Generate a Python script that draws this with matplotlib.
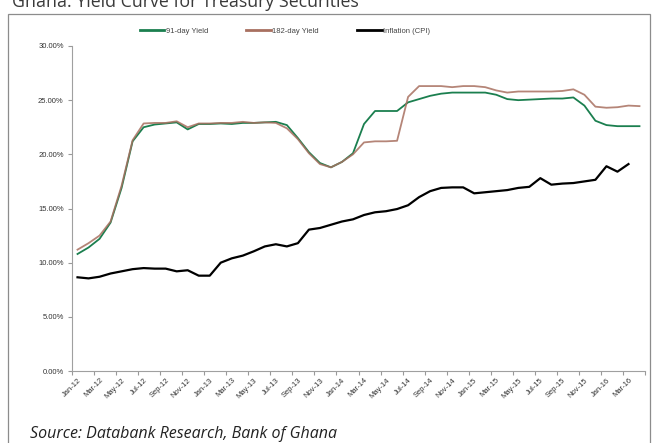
import matplotlib
matplotlib.use("Agg")
import matplotlib.pyplot as plt
import numpy as np
import pandas as pd
from matplotlib.patches import Rectangle

# meses Jan-12 .. Apr-16
months = pd.date_range("2012-01-01", periods=52, freq="MS").strftime("%b-%y").tolist()

# rendimiento letras 91 dias (%)
yield_91 = [10.8, 11.4, 12.2, 13.7, 16.9, 21.2, 22.5, 22.75, 22.85, 22.95, 22.3, 22.8,
            22.8, 22.85, 22.8, 22.9, 22.9, 22.95, 23.0, 22.7, 21.5, 20.2, 19.2, 18.8,
            19.3, 20.1, 22.8, 24.0, 24.0, 24.0, 24.8, 25.1, 25.4, 25.6, 25.7, 25.7,
            25.7, 25.7, 25.5, 25.1, 25.0, 25.05, 25.1, 25.15, 25.15, 25.25, 24.5, 23.1,
            22.7, 22.6, 22.6, 22.6]
# rendimiento letras 182 dias (%)
yield_182 = [11.2, 11.8, 12.5, 13.8, 17.1, 21.3, 22.85, 22.9, 22.9, 23.05, 22.5, 22.85,
             22.85, 22.9, 22.9, 23.0, 22.9, 22.95, 22.9, 22.4, 21.4, 20.1, 19.1, 18.8,
             19.3, 20.0, 21.1, 21.2, 21.2, 21.25, 25.3, 26.3, 26.3, 26.3, 26.2, 26.3,
             26.3, 26.2, 25.9, 25.7, 25.8, 25.8, 25.8, 25.8, 25.85, 26.0, 25.5, 24.4,
             24.3, 24.35, 24.5, 24.45]
# inflacion CPI (%), hasta Mar-16
cpi = [8.65, 8.55, 8.7, 9.0, 9.2, 9.4, 9.5, 9.45, 9.45, 9.2, 9.3, 8.8,
       8.8, 10.0, 10.4, 10.65, 11.05, 11.5, 11.7, 11.5, 11.8, 13.05, 13.2, 13.5,
       13.8, 14.0, 14.4, 14.65, 14.75, 14.95, 15.3, 16.05, 16.6, 16.9, 16.95, 16.95,
       16.4, 16.5, 16.6, 16.7, 16.9, 17.0, 17.8, 17.2, 17.3, 17.35, 17.5, 17.65,
       18.9, 18.4, 19.1]

yticks = [0, 5, 10, 15, 20, 25, 30]

plt.rcParams['font.family'] = ['Liberation Sans', 'DejaVu Sans']

W, H = 653, 443
fig = plt.figure(figsize=(W / 100, H / 100), dpi=100)
ax = fig.add_axes([72 / W, 1 - 371 / H, (645 - 72) / W, (371 - 46) / H])

x = np.arange(len(months))
ax.plot(x, yield_91, color="#1b7f4f", lw=1.3, label="91-day Yield")
ax.plot(x[:len(yield_182)], yield_182, color="#a87060", lw=1.3, alpha=0.85, label="182-day Yield")
ax.plot(x[:len(cpi)], cpi, color="black", lw=1.6, label="Inflation (CPI)")

ax.set_xlim(-0.5, len(months) - 0.5)
ax.set_ylim(0, 30)
ax.set_yticks(yticks)
ax.set_yticklabels(["%.2f%%" % v for v in yticks])

# ticks entre categorias, etiquetas cada 2 meses
ax.set_xticks(np.arange(-0.5, len(months), 2))
ax.set_xticklabels([])
ax.set_xticks(x[::2], minor=True)
ax.set_xticklabels(months[::2], minor=True, rotation=45, ha="right", va="top",
                   rotation_mode="anchor")
ax.tick_params(axis="x", which="minor", length=0, pad=4, labelsize=5.5, labelcolor="#333333")
ax.tick_params(axis="x", which="major", length=3, color="#999999")
ax.tick_params(axis="y", length=3, color="#999999", labelsize=5.5, labelcolor="#333333", pad=3)

for s in ["top", "right"]:
    ax.spines[s].set_visible(False)
for s in ["left", "bottom"]:
    ax.spines[s].set_color("#a0a0a0")
    ax.spines[s].set_linewidth(0.8)

leg = fig.legend(loc="center", bbox_to_anchor=(285 / W, 1 - 31 / H), ncol=3, frameon=False,
                 fontsize=5.5, handlelength=3.2, handletextpad=0.2, columnspacing=5)
for t in leg.get_texts():
    t.set_color("#444444")
for h in leg.get_lines():
    h.set_linewidth(2.0)
    h.set_alpha(1)

# marco y textos
fig.add_artist(Rectangle((8 / W, -0.05), (650 - 8) / W, 1 - 14 / H + 0.05,
                         transform=fig.transFigure, fill=False, ec="#8c8c8c", lw=0.9))
fig.text(12 / W, 1 - 7 / H, "Ghana: Yield Curve for Treasury Securities", fontsize=12.8,
         family="Open Sans", color="#3a3a3a", va="baseline", ha="left")
fig.text(30 / W, 1 - 438 / H, "Source: Databank Research, Bank of Ghana", fontsize=11.5,
         family="Open Sans", style="italic", color="#222222", va="baseline", ha="left")

fig.savefig("out.png", dpi=100)
